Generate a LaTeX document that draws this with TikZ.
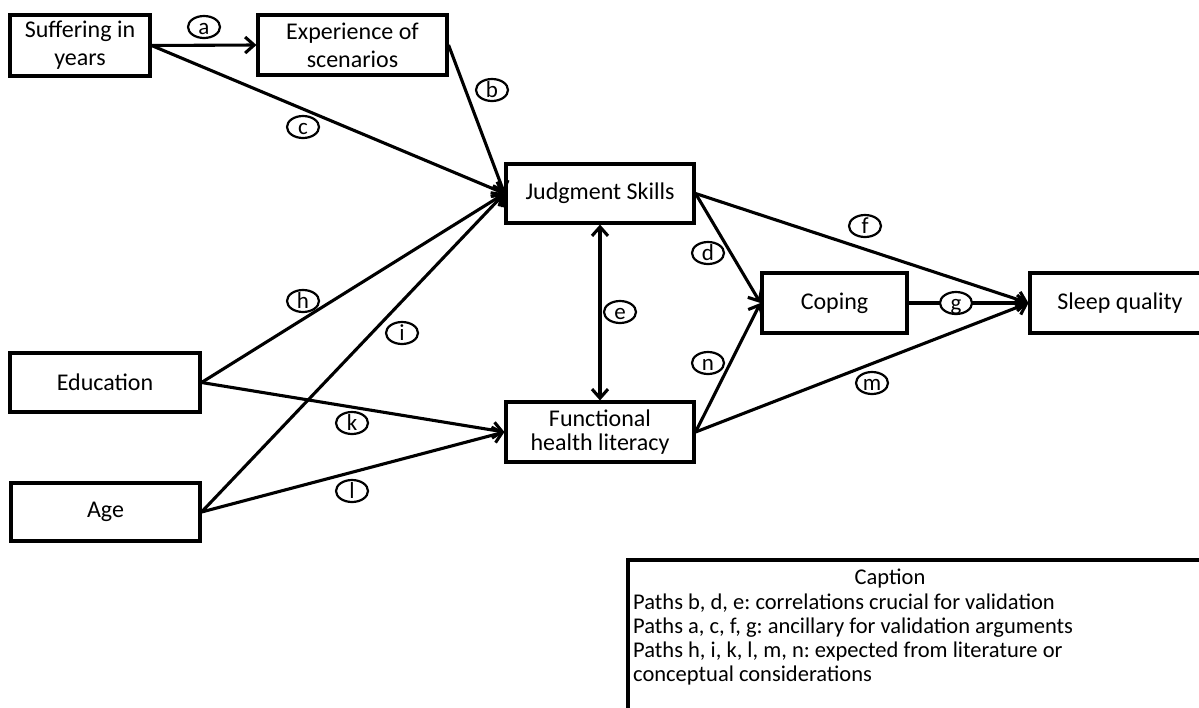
\documentclass[tikz,border=0pt]{standalone}
\usepackage{fontspec}
\setmainfont{Carlito}
\usetikzlibrary{arrows.meta,shapes.geometric}
\newcommand{\plab}[1]{\makebox[0pt]{\smash{\raisebox{-7pt}{#1}}}}
\frenchspacing
\begin{document}
\begin{tikzpicture}[x=1pt,y=-1pt,
  box/.style={draw,line width=3.1pt,inner sep=0pt,align=center,font=\fontsize{24}{28}\selectfont},
  conn/.style={line width=3.1pt,-{Straight Barb[length=9pt,width=16pt,line width=3.1pt]}},
  dconn/.style={line width=3.1pt,{Straight Barb[length=9pt,width=16pt,line width=3.1pt]}-{Straight Barb[length=9pt,width=16pt,line width=3.1pt]}},
  lbl/.style={draw,ellipse,line width=2.2pt,minimum width=32pt,minimum height=22pt,inner sep=0pt,font=\fontsize{23}{26}\selectfont},
  captxt/.style={anchor=base west,inner sep=0pt,font=\fontsize{22.5}{24}\selectfont}]
\useasboundingbox (0,0) rectangle (1199,707);
\clip (0,0) rectangle (1199,707);
\fill[white] (0,0) rectangle (1199,707);
% boxes
\node[box,minimum width=140pt,minimum height=61pt] (suf) at (80,45.5) {Suffering in\\years};
\node[box,minimum width=189pt,minimum height=60pt] (exp) at (352.5,45) {Experience of\\scenarios};
\node[box,minimum width=188pt,minimum height=59pt] (judg) at (600,193.5) {Judgment Skills};
\node[box,minimum width=188pt,minimum height=60pt,font=\fontsize{24}{24.5}\selectfont] (func) at (600,432) {Functional\\health literacy};
\node[box,minimum width=145pt,minimum height=60pt] (cop) at (834.5,303) {Coping};
\node[box,minimum width=180pt,minimum height=60pt] (sleep) at (1120,303) {Sleep quality};
\node[box,minimum width=190pt,minimum height=59pt] (edu) at (105,382.5) {Education};
\node[box,minimum width=189pt,minimum height=58pt] (age) at (105.5,512) {Age};
% connectors
\draw[conn] (suf.east) -- (exp.west);
\draw[conn] (suf.east) -- (judg.west);
\draw[conn] (exp.east) -- (judg.west);
\draw[conn] (edu.east) -- (judg.west);
\draw[conn] (age.east) -- (judg.west);
\draw[conn] (edu.east) -- (func.west);
\draw[conn] (age.east) -- (func.west);
\draw[dconn] (judg.south) -- (func.north);
\draw[conn] (judg.east) -- (cop.west);
\draw[conn] (func.east) -- (cop.west);
\draw[conn] (judg.east) -- (sleep.west);
\draw[conn] (cop.east) -- (sleep.west);
\draw[conn] (func.east) -- (sleep.west);
% path labels
\node[lbl] (la) at (204,27) {\plab{a}};
\node[lbl] (lb) at (492,90) {\plab{b}};
\node[lbl] (lc) at (303,127) {\plab{c}};
\node[lbl] (ld) at (708,253) {\plab{d}};
\node[lbl] (le) at (620,312) {\plab{e}};
\node[lbl] (lf) at (865,226) {\plab{f}};
\node[lbl,fill=white] (lg) at (956,303) {\plab{g}};
\node[lbl] (lh) at (303,301) {\plab{h}};
\node[lbl] (li) at (402,333) {\plab{i}};
\node[lbl] (lk) at (352,423) {\plab{k}};
\node[lbl] (ll) at (352,491) {\plab{l}};
\node[lbl] (lm) at (872,383) {\plab{m}};
\node[lbl] (ln) at (708,363) {\plab{n}};
% caption box
\coordinate (cbl) at (628,712);
\coordinate (ctl) at (628,560);
\coordinate (ctr) at (1210,560);
\draw[line width=3.1pt] (cbl) -- (ctl) -- (ctr);
\node[anchor=base,inner sep=0pt,font=\fontsize{22.5}{24}\selectfont] (cap0) at (890,584) {Caption};
\node[captxt] (cap1) at (633,609) {Paths b, d, e: correlations crucial for validation};
\node[captxt] (cap2) at (633,633) {Paths a, c, f, g: ancillary for validation arguments};
\node[captxt] (cap3) at (633,657) {Paths h, i, k, l, m, n: expected from literature or};
\node[captxt] (cap4) at (633,681) {conceptual considerations};
\end{tikzpicture}
\end{document}
